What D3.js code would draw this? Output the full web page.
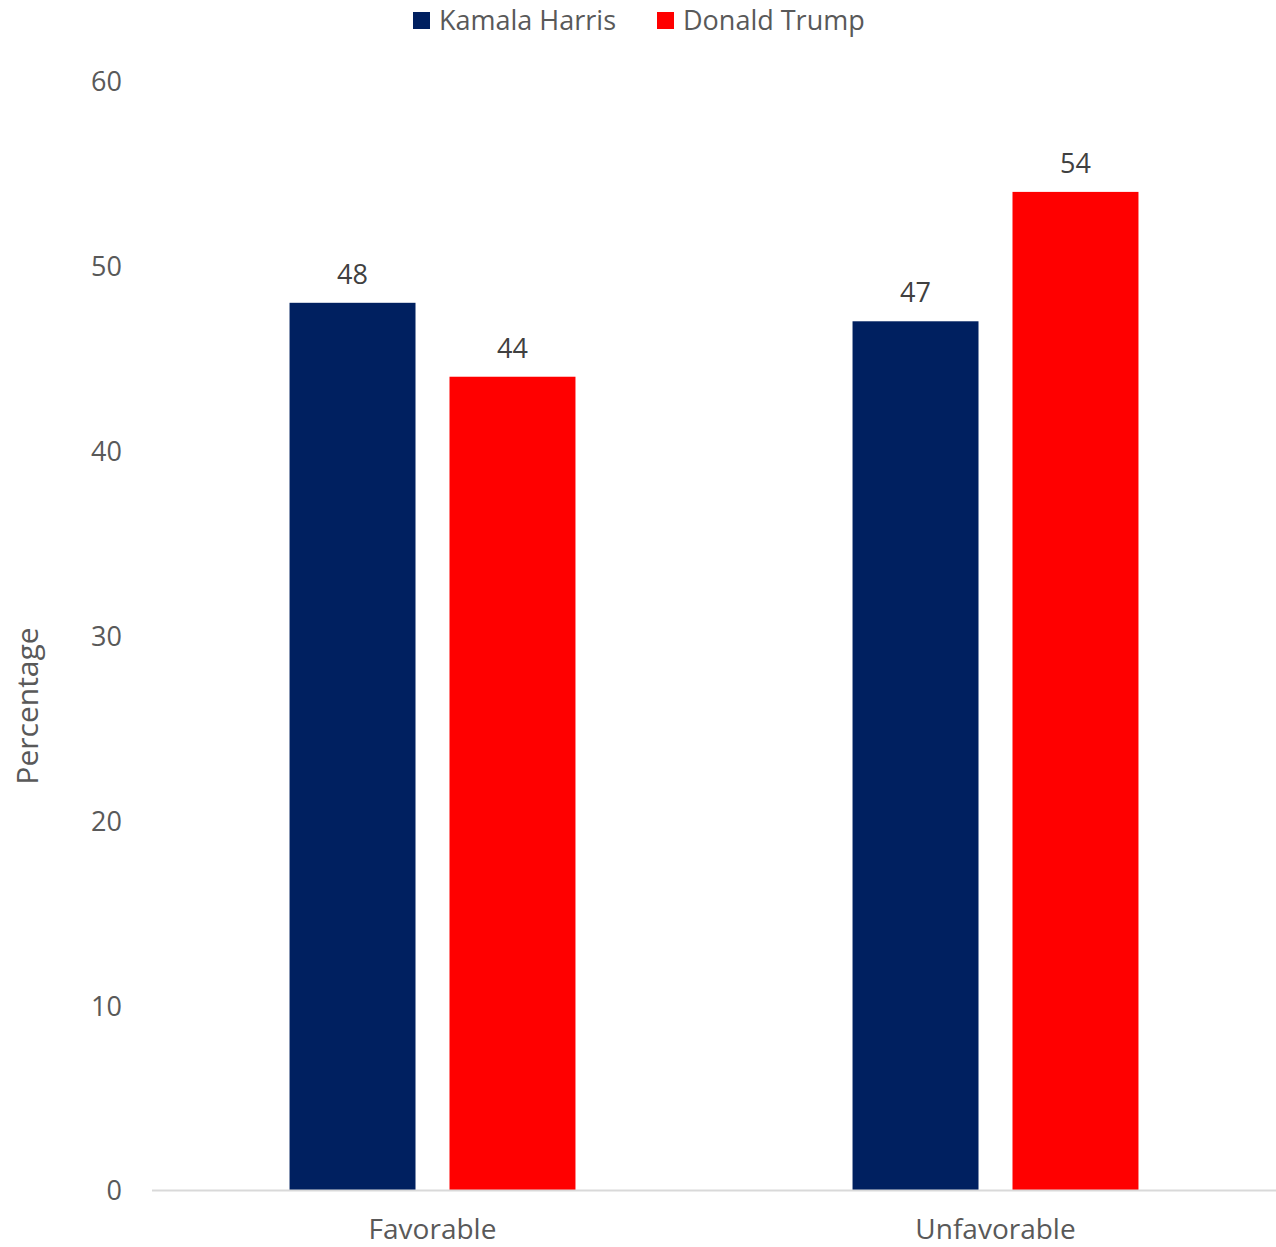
<!DOCTYPE html>
<html><head><meta charset="utf-8">
<script src="https://cdn.jsdelivr.net/npm/d3@7"></script>
<style>body{margin:0;background:#fff}svg{display:block}text{font-family:"Open Sans",sans-serif}</style>
</head><body><svg id="c" width="1276" height="1247"></svg>
<script>
const categories = ["Favorable", "Unfavorable"];
const seriesNames = ["Kamala Harris", "Donald Trump"];
const seriesColors = ["#002060", "#ff0000"];
const harris = [48, 47];
const trump = [44, 54];
const yTicks = [0, 10, 20, 30, 40, 50, 60];

const svg = d3.select("#c");
const x0 = d3.scaleBand().domain(categories).range([151, 1277]).paddingInner(0).paddingOuter(0);
const x1 = d3.scaleBand().domain(seriesNames).range([0, x0.bandwidth()]).paddingInner(0.2125).paddingOuter(0.866);
const y = d3.scaleLinear().domain([0, 60]).range([1190, 81]);

const data = categories.map((c, i) => ({cat: c, vals: [harris[i], trump[i]]}));

// y tick labels
svg.append("g").selectAll("text").data(yTicks).join("text")
  .attr("x", 122).attr("y", d => y(d) + 1).attr("dy", "0.35em")
  .attr("text-anchor", "end").attr("font-size", 27).attr("fill", "#595959")
  .text(d => d);

// bars
const g = svg.append("g").selectAll("g").data(data).join("g")
  .attr("transform", d => `translate(${x0(d.cat)},0)`);
g.selectAll("rect").data(d => d.vals.map((v, j) => ({v, s: seriesNames[j], j}))).join("rect")
  .attr("x", d => x1(d.s)).attr("width", x1.bandwidth())
  .attr("y", d => y(d.v)).attr("height", d => y(0) - y(d.v))
  .attr("fill", d => seriesColors[d.j]);
g.selectAll("text").data(d => d.vals.map((v, j) => ({v, s: seriesNames[j], j}))).join("text")
  .attr("x", d => x1(d.s) + x1.bandwidth() / 2).attr("y", d => y(d.v) - 19)
  .attr("text-anchor", "middle").attr("font-size", 27).attr("fill", "#404040")
  .text(d => d.v);

// axis line
svg.append("line").attr("x1", 152).attr("x2", 1276).attr("y1", 1190.5).attr("y2", 1190.5)
  .attr("stroke", "#d9d9d9").attr("stroke-width", 2);

// category labels
svg.append("g").selectAll("text").data(categories).join("text")
  .attr("x", d => x0(d) + x0.bandwidth() / 2).attr("y", 1239)
  .attr("text-anchor", "middle").attr("font-size", 28).attr("fill", "#595959")
  .text(d => d);

// y title
svg.append("text").attr("transform", "translate(38,706) rotate(-90)")
  .attr("text-anchor", "middle").attr("font-size", 30).attr("fill", "#595959")
  .text("Percentage");

// legend
const legX = [413, 657];
const leg = svg.append("g").selectAll("g").data(seriesNames).join("g")
  .attr("transform", (d, i) => `translate(${legX[i]},0)`);
leg.append("rect").attr("x", 0).attr("y", 12).attr("width", 17).attr("height", 17)
  .attr("fill", (d, i) => seriesColors[i]);
leg.append("text").attr("x", 26).attr("y", 21).attr("dy", "0.35em")
  .attr("font-size", 27).attr("fill", "#595959").text(d => d);
</script></body></html>
